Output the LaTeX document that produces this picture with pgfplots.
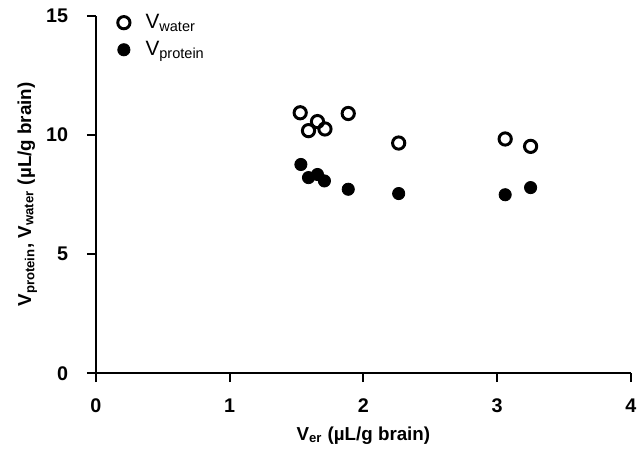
\documentclass[border=0pt]{standalone}
\usepackage{fontspec}
\setmainfont{Liberation Sans}
\usepackage{pgfplots}
\pgfplotsset{compat=1.18}
\begin{document}
\begin{tikzpicture}
\begin{axis}[
  scale only axis,
  width=271pt, height=181pt,
  xmin=0, xmax=4, ymin=0, ymax=15,
  axis lines*=left,
  axis line style={line width=1pt, black},
  xtick={0,1,2,3,4}, ytick={0,5,10,15},
  tick align=outside,
  major tick length=4.5pt,
  tick style={line width=1pt, black},
  /pgf/number format/assume math mode=true,
  ticklabel style={font=\bfseries\fontsize{10}{11}\selectfont},
  xticklabel style={yshift=-5pt},
  yticklabel style={xshift=-6pt},
  xlabel={\bfseries V\textsubscript{er} (µL/g brain)},
  ylabel={\bfseries V\textsubscript{protein}, V\textsubscript{water} (µL/g brain)},
  label style={font=\fontsize{9.5}{11}\selectfont},
  xlabel style={at={(axis description cs:0.5,-0.174)}, anchor=center},
  ylabel style={at={(axis description cs:-0.128,0.5)}, anchor=center},
  clip=false,
  legend image code/.code={\draw[#1, only marks] plot coordinates {(0pt,0pt)}; \path[draw=none, fill=none] (-4pt,0pt) (9pt,0pt);},
  legend style={at={(axis description cs:0.037,1.017)}, anchor=north west, draw=none, fill=none,
    font=\fontsize{10.5}{11}\selectfont, row sep=1pt, legend cell align=left,
    inner sep=0pt},
]
\addplot[only marks, mark=o, mark size=3.1pt, mark options={line width=1.5pt, draw=black, fill=white}] coordinates {
 (1.528,10.93) (1.590,10.18) (1.657,10.56) (1.713,10.25) (1.887,10.90)
 (2.264,9.66) (3.06,9.83) (3.25,9.52)
};
\addlegendentry{V\textsubscript{water}}
\addplot[only marks, mark=*, mark size=3.1pt, mark options={draw=black, fill=black}] coordinates {
 (1.533,8.76) (1.590,8.21) (1.657,8.34) (1.709,8.07) (1.887,7.72)
 (2.264,7.54) (3.06,7.49) (3.25,7.79)
};
\addlegendentry{V\textsubscript{protein}}
\path (rel axis cs:0,1) ++(-48.5pt,8pt) coordinate (tl);
\path (rel axis cs:1,0) ++(3pt,-40pt) coordinate (br);
\end{axis}
\end{tikzpicture}
\end{document}
